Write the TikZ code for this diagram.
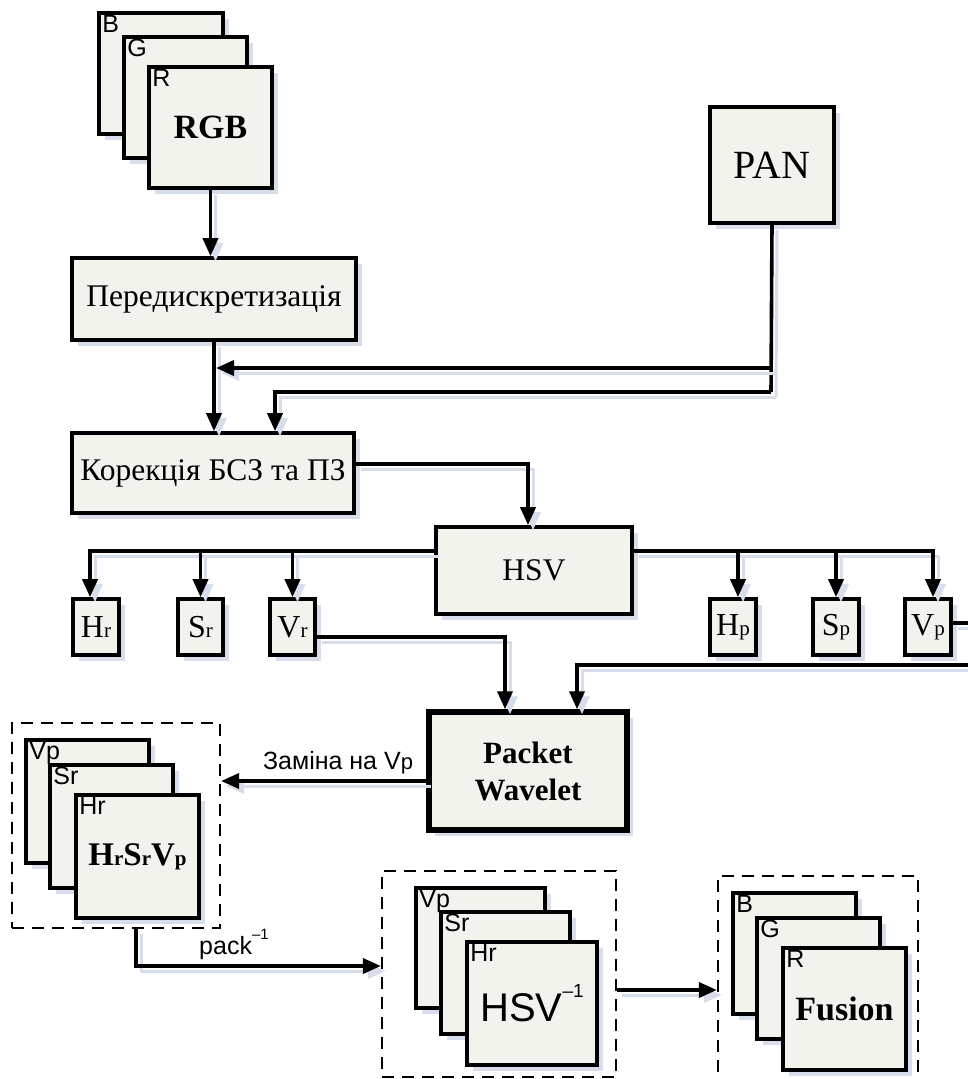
\documentclass[tikz,border=0pt]{standalone}
\usepackage{fontspec}
\setmainfont{Liberation Serif}
\setsansfont{Liberation Sans}
\usetikzlibrary{arrows.meta,shadows}
\definecolor{boxfill}{RGB}{242,243,237}
\definecolor{shadowc}{RGB}{216,221,236}
\newcommand\fs[2]{{\fontsize{#1}{#1}\selectfont #2}}
% \bx[style]{x1}{y1}{x2}{y2}{name}{text}
\newcommand\bx[7][blk]{\node[#1,minimum width={#4-#2},minimum height={#5-#3}] (#6) at ({(#2+#4)/2},{(#3+#5)/2}) {#7};}
\begin{document}
\begin{tikzpicture}[x=1pt,y=-1pt,
  blk/.style={draw,line width=3.6pt,fill=boxfill,inner sep=0pt,
    drop shadow={shadow xshift=6pt,shadow yshift=-6pt,fill=shadowc,draw=none,opacity=1}},
  dbox/.style={draw,line width=2.2pt,dash pattern=on 12pt off 8pt,fill=white,inner sep=0pt},
  lab/.style={font=\sffamily\fontsize{25}{25}\selectfont,inner sep=0pt,anchor=north west},
  shd/.style={preaction={draw=shadowc,line width=3pt,transform canvas={shift={(5pt,-5pt)}}}},
  wire/.style={line width=3.6pt,shd},
  conn/.style={line width=3.6pt,shd,-{Triangle[length=18pt,width=15pt]}},
  serif31/.style={font=\fontsize{31.5}{31.5}\selectfont},
  bigbold/.style={font=\bfseries\fontsize{34}{34}\selectfont},
  small/.style={font=\fontsize{32}{32}\selectfont}
]
\useasboundingbox (0,0) rectangle (968,1079);
\clip (0,0) rectangle (968,1079);

% dashed groups (background)
\bx[dbox]{12}{723}{220}{928}{d1}{}
\bx[dbox]{382}{871}{616}{1077}{d2}{}
\bx[dbox]{718}{876}{918}{1092}{d3}{}

\coordinate (pj1) at (771,368);
\coordinate (pj2) at (771,392);

% RGB stack
\bx{99}{13}{223}{134}{bB}{}
\node[lab] (lB) at ([shift={(5,4)}]bB.north west) {B};
\bx{124}{37}{247}{158}{bG}{}
\node[lab] (lG) at ([shift={(5,4)}]bG.north west) {G};
\bx[blk,bigbold]{149}{67}{272}{188}{bR}{RGB}
\node[lab] (lR) at ([shift={(5,4)}]bR.north west) {R};

% PAN
\bx[blk,font=\fontsize{40}{40}\selectfont]{710}{107}{834}{223}{pan}{PAN}

% main boxes
\bx[blk,serif31]{72}{258}{356}{340}{pered}{Передискретизація}
\bx[blk,serif31]{72}{433}{354}{513}{kor}{Корекція БСЗ та ПЗ}
\bx[blk,serif31]{436}{527}{632}{614}{hsv}{HSV}

% component boxes
\bx[blk,small]{73}{599}{119}{655}{hrb}{H\fs{21}{r}}
\bx[blk,small]{178}{599}{223}{655}{srb}{S\fs{21}{r}}
\bx[blk,small]{270}{599}{315}{655}{vrb}{V\fs{21}{r}}
\bx[blk,small]{710}{599}{756}{655}{hpb}{H\fs{21}{p}}
\bx[blk,small]{813}{599}{859}{655}{spb}{S\fs{21}{p}}
\bx[blk,small]{905}{599}{951}{655}{vpb}{V\fs{21}{p}}

% Packet Wavelet
\bx[blk,line width=5.5pt,align=center,font=\bfseries\fontsize{31}{37}\selectfont]{429}{712}{627}{830}{pw}{Packet\\Wavelet}

% HrSrVp stack
\bx{26}{740}{149}{863}{s1v}{}
\node[lab] (l1v) at ([shift={(5,4)}]s1v.north west) {Vp};
\bx{50}{765}{173}{888}{s1s}{}
\node[lab] (l1s) at ([shift={(5,4)}]s1s.north west) {Sr};
\bx[blk,font=\bfseries\fontsize{33}{33}\selectfont]{76}{795}{199}{918}{s1h}{H\fs{21}{r}S\fs{21}{r}V\fs{21}{p}}
\node[lab] (l1h) at ([shift={(5,4)}]s1h.north west) {Hr};

% HSV^-1 stack
\bx{416}{888}{545}{1008}{s2v}{}
\node[lab] (l2v) at ([shift={(5,4)}]s2v.north west) {Vp};
\bx{441}{912}{570}{1034}{s2s}{}
\node[lab] (l2s) at ([shift={(5,4)}]s2s.north west) {Sr};
\bx[blk,font=\sffamily\fontsize{40}{40}\selectfont]{467}{942}{597}{1065}{s2h}{HSV\raisebox{0.6em}{\fs{19}{–1}}}
\node[lab] (l2h) at ([shift={(5,4)}]s2h.north west) {Hr};

% Fusion stack
\bx{733}{893}{856}{1014}{s3b}{}
\node[lab] (l3b) at ([shift={(5,4)}]s3b.north west) {B};
\bx{757}{918}{880}{1039}{s3g}{}
\node[lab] (l3g) at ([shift={(5,4)}]s3g.north west) {G};
\bx[blk,bigbold]{783}{948}{906}{1070}{s3r}{Fusion}
\node[lab] (l3r) at ([shift={(5,4)}]s3r.north west) {R};

% connectors
\draw[conn] (bR.south) -- (bR.south |- pered.north);
\draw[conn] (pered.south) -- (pered.south |- kor.north);
\draw[wire] (pan.south) -- (pj2);
\draw[conn] (pj1) -- ([xshift=2pt]pered.south |- pj1);
\draw[conn] (pj2) -| ([xshift=62pt]kor.north);
\draw[conn] ([yshift=9pt]kor.east) -| ([xshift=-6pt]hsv.north);

\coordinate (hl) at ([yshift=19.5pt]hsv.west);
\coordinate (hrr) at ([yshift=19.5pt]hsv.east);
\coordinate (hrt) at ([xshift=-6pt]hrb.north);
\coordinate (hpt) at ([xshift=5pt]hpb.north);
\coordinate (vpt) at ([xshift=5pt]vpb.north);
\draw[conn] (hl) -| (hrt);
\draw[conn] (hl -| srb.north) -- (srb.north);
\draw[conn] (hl -| vrb.north) -- (vrb.north);
\draw[conn] (hrr) -| (vpt);
\draw[conn] (hrr -| hpt) -- (hpt);
\draw[conn] (hrr -| spb.north) -- (spb.north);

\draw[conn] ([yshift=-10pt]vrb.east) -| ([xshift=-23pt]pw.north);
\draw[conn] ([yshift=4pt]vpb.east) -- ++(40,0) -- ++(0,42) -| ([xshift=49pt]pw.north);

\coordinate (pwo) at ([yshift=-10pt]pw.west);
\draw[conn] (pwo) -- (pwo -| d1.east)
  node[pos=0.43,above=5pt,font=\sffamily\fontsize{25}{25}\selectfont,inner sep=0pt] (lz) {Заміна на V\fs{22}{p}};
\draw[conn] ([xshift=20pt]d1.south) |- ([yshift=8pt]d2.west)
  node[pos=0.70,above=5pt,font=\sffamily\fontsize{25}{25}\selectfont,inner sep=0pt] (lp) {pack\raisebox{0.6em}{\fs{15}{–1}}};
\coordinate (d2o) at ([yshift=-16pt]d2.east);
\draw[conn] (d2o) -- (d2o -| d3.west);
\end{tikzpicture}
\end{document}
